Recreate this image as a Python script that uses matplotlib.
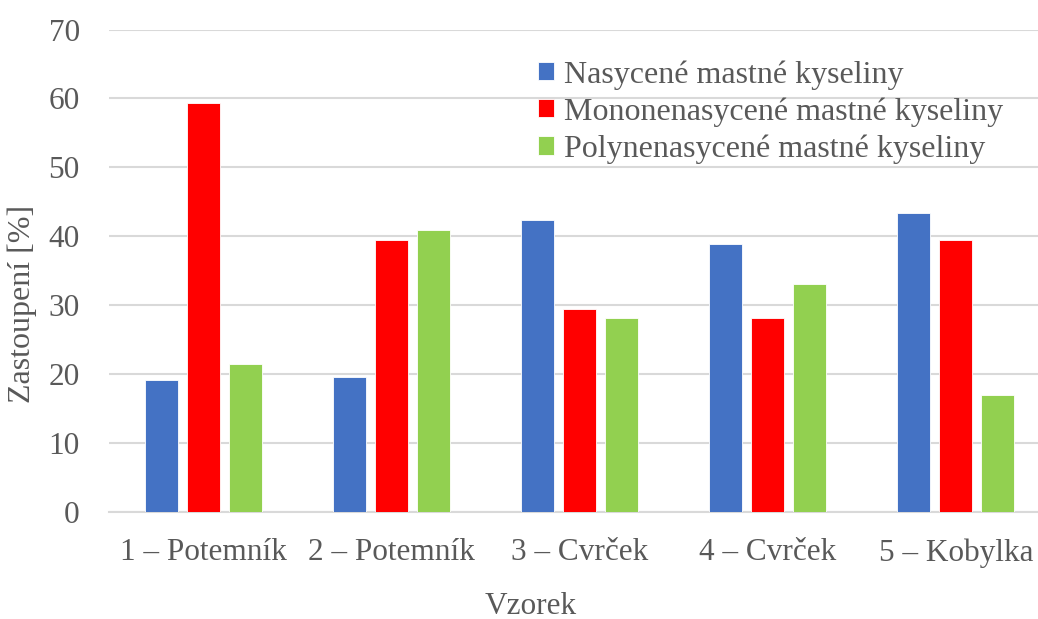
import matplotlib
matplotlib.use("Agg")
import matplotlib.pyplot as plt
import numpy as np

categories = ["1 – Potemník", "2 – Potemník", "3 – Cvrček", "4 – Cvrček", "5 – Kobylka"]
series_names = ["Nasycené mastné kyseliny", "Mononenasycené mastné kyseliny", "Polynenasycené mastné kyseliny"]
nasycene = [19.1, 19.5, 42.4, 38.8, 43.4]
mononenasycene = [59.3, 39.4, 29.5, 28.1, 39.5]
polynenasycene = [21.5, 40.9, 28.2, 33.0, 17.0]
y_ticks = [0, 10, 20, 30, 40, 50, 60, 70]

colors = ["#4472C4", "#FF0000", "#92D050"]
text_color = "#595959"
grid_color = "#D9D9D9"

plt.rcParams['font.family'] = ['Liberation Serif', 'DejaVu Serif']
plt.rcParams['font.size'] = 22.5

W, H = 1038, 619
fig = plt.figure(figsize=(W / 100, H / 100), dpi=100)
left = 109 / W
bottom = 1 - 511.8 / H
top = 1 - 29.5 / H
ax = fig.add_axes([left, bottom, 1 - left, top - bottom])

x = np.arange(len(categories))
bw = 33 / 188.25
step = 42 / 188.25
for i, (vals, name, c) in enumerate(zip([nasycene, mononenasycene, polynenasycene], series_names, colors)):
    ax.bar(x + (i - 1) * step, vals, width=bw, color=c, label=name, zorder=3,
           edgecolor="white", linewidth=0.6)

ax.set_xlim(-0.5, 4.5 - 12 / 188.25)
ax.set_ylim(0, 70)
ax.set_yticks(y_ticks)
ax.set_yticklabels([str(v) for v in y_ticks])
ax.set_xticks(x)
ax.set_xticklabels(categories)
ax.tick_params(axis='both', length=0, colors=text_color, labelsize=22.5)
ax.tick_params(axis='x', pad=19)
ax.tick_params(axis='y', pad=21)
ax.grid(axis='y', color=grid_color, linewidth=1.5, zorder=0)
for s in ["top", "right", "left"]:
    ax.spines[s].set_visible(False)
ax.spines["bottom"].set_color(grid_color)
ax.spines["bottom"].set_linewidth(1.5)

fig.text(531 / W, 1 - 606 / H, "Vzorek", ha="center", va="center", color=text_color, fontsize=22.5)
fig.text(22 / W, 1 - 304 / H, "Zastoupení [%]", ha="center", va="center", rotation=90,
         color=text_color, fontsize=23)

leg = ax.legend(loc="upper left", bbox_to_anchor=(538 / W, 1 - 60 / H), bbox_transform=fig.transFigure,
                frameon=False, fontsize=23, handlelength=0.5, handleheight=0.5,
                handletextpad=0.3, labelspacing=0.24, borderpad=0, borderaxespad=0)
for t in leg.get_texts():
    t.set_color(text_color)

fig.savefig("out.png", dpi=100)
